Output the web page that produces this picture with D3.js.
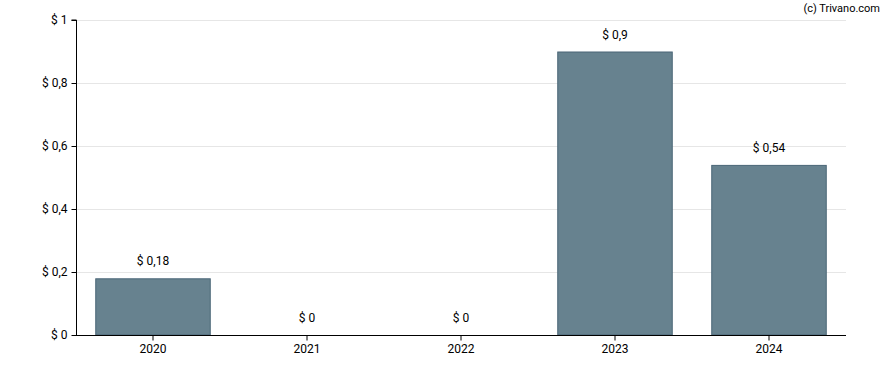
<!DOCTYPE html>
<html><head><meta charset="utf-8">
<script src="https://cdn.jsdelivr.net/npm/d3@7"></script>
<style>body{margin:0;background:#fff}svg{display:block;font-family:Roboto,"Liberation Sans",Arial,sans-serif}</style>
</head><body>
<svg id="c" width="888" height="370"></svg>
<script>
const categories = ["2020","2021","2022","2023","2024"];
const values = [0.18, 0, 0, 0.9, 0.54];
const valueLabels = ["$ 0,18","$ 0","$ 0","$ 0,9","$ 0,54"];
const yTicks = [0, 0.2, 0.4, 0.6, 0.8, 1];
const yTickLabels = ["$ 0","$ 0,2","$ 0,4","$ 0,6","$ 0,8","$ 1"];

const svg = d3.select("#c");
const m = {l:76, r:846, t:20, b:335};
const x = d3.scaleBand().domain(categories).range([m.l, m.r]).paddingInner(0.25).paddingOuter(0.125);
const y = d3.scaleLinear().domain([0,1]).range([m.b, m.t]);

svg.append("g").selectAll("line").data(yTicks.slice(1)).join("line")
  .attr("x1", m.l).attr("x2", m.r).attr("y1", d=>y(d)+0.5).attr("y2", d=>y(d)+0.5)
  .attr("stroke","#e6e6e6").attr("stroke-width",1);

svg.append("g").selectAll("rect").data(values).join("rect")
  .attr("x",(d,i)=>x(categories[i])+0.5).attr("width",x.bandwidth()-1)
  .attr("y",d=>y(d)+0.5).attr("height",d=>Math.max(0,y(0)-y(d)-0.5))
  .attr("fill","#67828f").attr("stroke","#4a6577").attr("stroke-width",1)
  .style("display",d=>d>0?null:"none");

svg.append("g").selectAll("text").data(values).join("text")
  .attr("x",(d,i)=>x(categories[i])+x.bandwidth()/2).attr("y",d=>y(d)-13)
  .attr("text-anchor","middle").attr("font-size",12).attr("fill","#000")
  .text((d,i)=>valueLabels[i]);

const yAxis = d3.axisLeft(y).tickValues(yTicks).tickFormat((d,i)=>yTickLabels[i]).tickSize(5).tickPadding(4);
const gy = svg.append("g").attr("transform",`translate(${m.l+0.5},0)`).call(yAxis);
gy.select(".domain").attr("d",`M-5,${m.t}H0V${m.b}`).attr("stroke","#000");
gy.selectAll("text").attr("font-size",12).attr("font-family","Roboto").attr("fill","#000");

const xAxis = d3.axisBottom(x).tickSize(5).tickPadding(4);
const gx = svg.append("g").attr("transform",`translate(0,${m.b+0.5})`).call(xAxis);
gx.select(".domain").attr("d",`M${m.l},0H${m.r}`).attr("stroke","#000");
gx.selectAll("text").attr("font-size",12).attr("font-family","Roboto").attr("fill","#000");

svg.append("text").attr("x",880).attr("y",12).attr("text-anchor","end")
  .attr("font-size",11).attr("fill","#000").text("(c) Trivano.com");
</script>
</body></html>
